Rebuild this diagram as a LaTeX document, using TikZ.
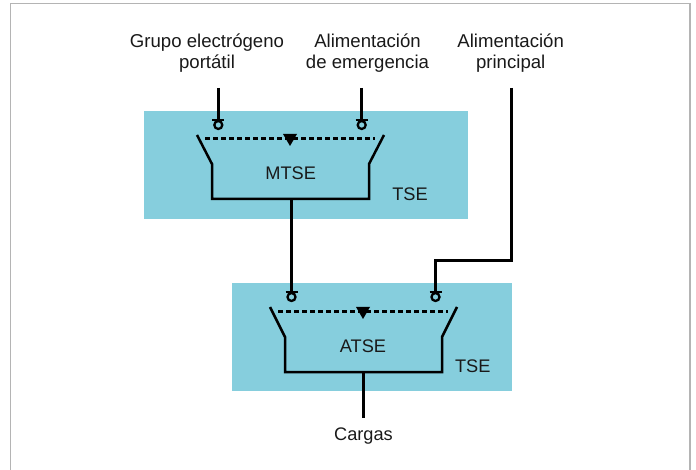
\documentclass[tikz,border=0pt]{standalone}
\usepackage{fontspec}
\setmainfont{Liberation Sans}
\definecolor{tsecolor}{HTML}{86CEDD}
\definecolor{framecolor}{HTML}{B4B4B4}
\begin{document}
\begin{tikzpicture}[x=1pt,y=-1pt,
every node/.style = {align=center, font=\fontsize{18.2}{21}\selectfont, text=black!90},
toplabel/.style = {font=\fontsize{18.6}{21}\selectfont},
wire/.style = {line width=2.5pt},
contact/.style = {draw, circle, line width=2.3pt, minimum size=8pt, inner sep=0pt},
linkage/.style = {line width=2.2pt, dash pattern=on 5.3pt off 2.7pt}]
\useasboundingbox (0,0) rectangle (696,470);
\draw[framecolor, line width=1.4pt] (10.5,470) -- (10.5,3.5) -- (690,3.5) -- (690,470);
\fill[tsecolor] (144,111) rectangle (468,219);
\fill[tsecolor] (232,283) rectangle (512,391);
% labels
\node[toplabel](grupo) at (207,53.5) {Grupo electrógeno\\portátil};
\node[toplabel](emergencia) at (367.5,53.5) {Alimentación\\de emergencia};
\node[toplabel](principal) at (510.7,53.5) {Alimentación\\principal};
\node(mtse) at (290.7,173) {MTSE};
\node(tseup) at (410,194) {TSE};
\node(atse) at (363,346) {ATSE};
\node(tselow) at (472.7,366) {TSE};
\node(cargas) at (363.5,436.5) {Cargas};
% contacts
\node[contact](c1) at (218.3,125) {};
\node[contact](c2) at (361.7,125) {};
\node[contact](c3) at (291.5,297) {};
\node[contact](c4) at (435.5,297) {};
\foreach \c in {c1,c2,c3,c4}
\draw[line width=2pt] ([xshift=-6pt]\c.north) -- ([xshift=6pt]\c.north);
% free ends
\coordinate(f1) at (218.3,88);
\coordinate(f2) at (361.7,88);
\coordinate(f3) at (511.5,88);
\draw[wire] (f1) -- (c1.north);
\draw[wire] (f2) -- (c2.north);
\draw[wire] (f3) |- (435.5,260.5) -- (c4.north);
% upper switch
\coordinate(busup) at (291.5,199);
\draw[wire, line join=miter] (197,135) -- (212,164) -- (212,199) -- (369,199) -- (369,164) -- (384,135);
\draw[linkage] (205,138.5) -- (375,138.5);
\fill (283,134) -- (297,134) -- (290,146) -- cycle;
\draw[wire] (busup) -- (c3.north);
% lower switch
\coordinate(buslow) at (363.3,372);
\coordinate(load) at (363.3,418);
\draw[wire, line join=miter] (270,307) -- (285,337) -- (285,372) -- (442,372) -- (442,337) -- (457,307);
\draw[linkage] (278,311.5) -- (448,311.5);
\fill (356,307) -- (370,307) -- (363,319) -- cycle;
\draw[wire] (buslow) -- (load);
\end{tikzpicture}
\end{document}
